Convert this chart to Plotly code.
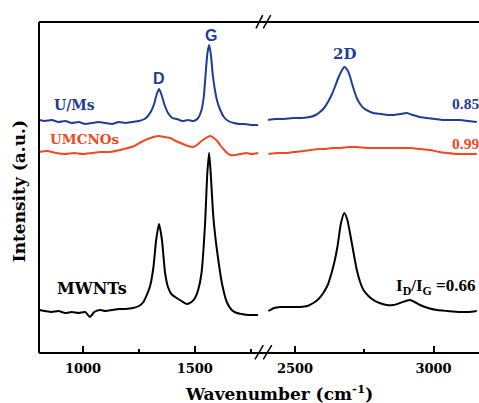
import plotly.graph_objects as go

# Raman spectra, low-wavenumber window (D and G bands)
wn_low_ums = [805, 830, 860, 890, 920, 950, 980, 1010, 1040, 1070, 1100, 1130, 1160, 1190, 1220, 1250,
              1275, 1290, 1305, 1318, 1330, 1340, 1350, 1365, 1380, 1400, 1420, 1445, 1470, 1495, 1515,
              1530, 1540, 1548, 1556, 1564, 1572, 1580, 1590, 1600, 1612, 1630, 1650, 1675, 1700, 1725,
              1750, 1783]
int_low_ums = [233, 232, 233, 231, 232, 230, 231, 229, 230, 231, 230, 229, 231, 230, 231, 232,
               234, 237, 242, 249, 259, 264, 259, 248, 240, 235, 234, 232, 233, 232, 235,
               243, 256, 278, 299, 308, 298, 279, 263, 252, 244, 236, 232, 230, 229, 229,
               228, 228]

wn_low_umcnos = [805, 840, 880, 920, 960, 1000, 1040, 1080, 1120, 1166, 1200, 1230, 1260, 1290, 1315,
                 1340, 1365, 1389, 1415, 1447, 1470, 1492, 1510, 1530, 1550, 1568, 1585, 1600, 1613,
                 1628, 1645, 1660, 1680, 1705, 1730, 1755, 1783]
int_low_umcnos = [201, 202, 200, 199, 200, 199, 200, 201, 201, 203, 205, 207, 211, 214, 216,
                  217, 216, 215, 212, 209, 207, 206, 208, 212, 215, 217, 215, 212, 208,
                  204, 200, 198, 198, 199, 200, 199, 200]

wn_low_mwnts = [805, 830, 860, 890, 920, 950, 980, 1010, 1031, 1050, 1076, 1100, 1130, 1160, 1190,
                1224, 1250, 1270, 1285, 1300, 1315, 1327, 1340, 1353, 1367, 1380, 1395, 1419, 1440,
                1464, 1485, 1501, 1515, 1530, 1546, 1556, 1564, 1571, 1583, 1595, 1605, 1621, 1643,
                1665, 1688, 1710, 1740, 1783]
int_low_mwnts = [43, 42, 41, 42, 40, 41, 40, 41, 36, 41, 43, 42, 43, 44, 44,
                 45, 47, 51, 58, 67, 86, 113, 129, 113, 80, 66, 59, 55, 52,
                 49, 51, 55, 63, 80, 130, 180, 200, 180, 136, 110, 93, 70, 51,
                 43, 40, 39, 38, 38]

# Raman spectra, high-wavenumber window (2D band)
wn_high_ums = [2403, 2430, 2460, 2493, 2525, 2554, 2575, 2590, 2605, 2619, 2632, 2644, 2656, 2666,
               2678, 2689, 2698, 2705, 2714, 2723, 2735, 2747, 2765, 2783, 2810, 2835, 2855, 2880,
               2903, 2925, 2950, 2975, 3005, 3035, 3065, 3096, 3125, 3156]
int_high_ums = [233, 234, 234, 235, 235, 236, 238, 241, 245, 251, 258, 266, 275, 281,
                286, 283, 277, 270, 262, 255, 249, 245, 242, 240, 239, 238, 238, 239,
                240, 238, 236, 235, 234, 233, 233, 233, 232, 231]

wn_high_umcnos = [2404, 2440, 2470, 2493, 2530, 2560, 2583, 2610, 2637, 2665, 2695, 2723, 2760,
                  2795, 2830, 2870, 2915, 2950, 2987, 3020, 3048, 3090, 3125, 3156]
int_high_umcnos = [199, 200, 200, 201, 202, 203, 204, 204, 205, 205, 206, 206, 205,
                   205, 205, 205, 205, 204, 203, 201, 200, 199, 199, 199]

wn_high_mwnts = [2404, 2425, 2446, 2480, 2518, 2545, 2566, 2585, 2602, 2618, 2632, 2643, 2653, 2666,
                 2678, 2689, 2697, 2705, 2714, 2723, 2735, 2747, 2765, 2783, 2805, 2831, 2855, 2879,
                 2900, 2915, 2932, 2951, 2980, 3012, 3050, 3096, 3125, 3156]
int_high_mwnts = [42, 45, 46, 46, 46, 47, 50, 54, 60, 68, 80, 92, 106, 130,
                  140, 133, 122, 110, 96, 83, 71, 63, 57, 53, 50, 48, 48, 50,
                  52, 53, 51, 48, 45, 43, 42, 41, 41, 42]

sample_names = ["U/Ms", "UMCNOs", "MWNTs"]
ratio_labels = ["0.85", "0.99", "0.66"]
band_labels = ["D", "G", "2D"]

BLUE = "#1d3d98"
ORANGE = "#f0481f"
BLACK = "#000000"
SERIF = "DejaVu Serif"
TIMES = "Liberation Serif"
SANS = "Liberation Sans"

fig = go.Figure()

series = [
    (wn_low_ums, int_low_ums, wn_high_ums, int_high_ums, BLUE, sample_names[0]),
    (wn_low_umcnos, int_low_umcnos, wn_high_umcnos, int_high_umcnos, ORANGE, sample_names[1]),
    (wn_low_mwnts, int_low_mwnts, wn_high_mwnts, int_high_mwnts, BLACK, sample_names[2]),
]
for wl, il, wh, ih, col, name in series:
    fig.add_trace(go.Scatter(x=wl, y=il, mode="lines", name=name, showlegend=False,
                             line=dict(color=col, width=2, shape="spline", smoothing=0.6),
                             xaxis="x", yaxis="y"))
    fig.add_trace(go.Scatter(x=wh, y=ih, mode="lines", name=name, showlegend=False,
                             line=dict(color=col, width=2, shape="spline", smoothing=0.6),
                             xaxis="x2", yaxis="y2"))

tickfont = dict(family=SERIF, size=13, color="black", weight="bold")
common_x = dict(showgrid=False, zeroline=False, showline=False, ticks="inside", ticklen=7,
                tickwidth=2, tickcolor="black", tickfont=tickfont, ticklabelstandoff=6,
                tickmode="array", fixedrange=True)

fig.update_layout(
    width=479, height=403,
    margin=dict(l=39, r=0, t=22, b=50),
    paper_bgcolor="white", plot_bgcolor="white",
    xaxis=dict(domain=[0, 0.5045], range=[803, 1796], tickvals=[1000, 1500],
               minor=dict(tickmode="array", tickvals=[1250, 1750], ticks="inside", ticklen=4,
                          tickwidth=2, tickcolor="black"),
               anchor="y", **common_x),
    xaxis2=dict(domain=[0.5182, 1], range=[2399, 3164], tickvals=[2500, 3000],
                minor=dict(tickmode="array", tickvals=[2750], ticks="inside", ticklen=4,
                           tickwidth=2, tickcolor="black"),
                anchor="y2", **common_x),
    yaxis=dict(range=[0, 331], showgrid=False, zeroline=False, showline=False,
               showticklabels=False, ticks="", fixedrange=True, anchor="x"),
    yaxis2=dict(range=[0, 331], matches="y", showgrid=False, zeroline=False, showline=False,
                showticklabels=False, ticks="", fixedrange=True, anchor="x2"),
)

# frame: left, bottom and top lines
frame = dict(type="line", xref="paper", yref="paper", line=dict(color="black", width=2))
fig.add_shape(x0=0, x1=0, y0=0, y1=1, **frame)
fig.add_shape(x0=0, x1=1, y0=0, y1=0, **frame)
fig.add_shape(x0=0, x1=1, y0=1, y1=1, **frame)

# axis break marks "//" on the top and bottom lines
for (x0, y0, x1, y1) in [(0.4932, 0.981, 0.5084, 1.021), (0.5098, 0.981, 0.5266, 1.021),
                         (0.4909, -0.019, 0.5098, 0.024), (0.5098, -0.019, 0.5289, 0.024)]:
    fig.add_shape(type="line", xref="paper", yref="paper", x0=x0, y0=y0, x1=x1, y1=y1,
                  line=dict(color="black", width=1.5))

def note(text, x, y, xref, yref, color, family, size, xanchor="center", yanchor="middle", angle=0):
    fig.add_annotation(text=text, x=x, y=y, xref=xref, yref=yref, showarrow=False,
                       xanchor=xanchor, yanchor=yanchor, textangle=angle,
                       font=dict(family=family, size=size, color=color, weight="bold"))

# band labels
note(band_labels[0], 1340, 275, "x", "y", BLUE, SANS, 16)
note(band_labels[1], 1572, 318, "x", "y", BLUE, SANS, 16)
note(band_labels[2], 2677, 299, "x2", "y2", BLUE, SERIF, 15)

# sample names
note(sample_names[0], 861, 248, "x", "y", BLUE, SERIF, 14, xanchor="left")
note(sample_names[1], 843, 214, "x", "y", ORANGE, SERIF, 13.5, xanchor="left")
note(sample_names[2], 875, 65, "x", "y", BLACK, SERIF, 16, xanchor="left")

# intensity ratios
note(ratio_labels[0], 3058, 249.5, "x2", "y2", BLUE, TIMES, 15.5, xanchor="left")
note(ratio_labels[1], 3058, 210, "x2", "y2", ORANGE, TIMES, 15.5, xanchor="left")
note("I<sub>D</sub>/I<sub>G</sub> =" + ratio_labels[2], 2857, 66, "x2", "y2", BLACK, TIMES, 17,
     xanchor="left")

# axis titles
note("Wavenumber (cm<sup>-1</sup>)", 0.545, -0.121, "paper", "paper", "black", SERIF, 17)
note("Intensity (a.u.)", -0.0466, 0.49, "paper", "paper", "black", SERIF, 17, angle=-90)

fig.write_html("out.html")
